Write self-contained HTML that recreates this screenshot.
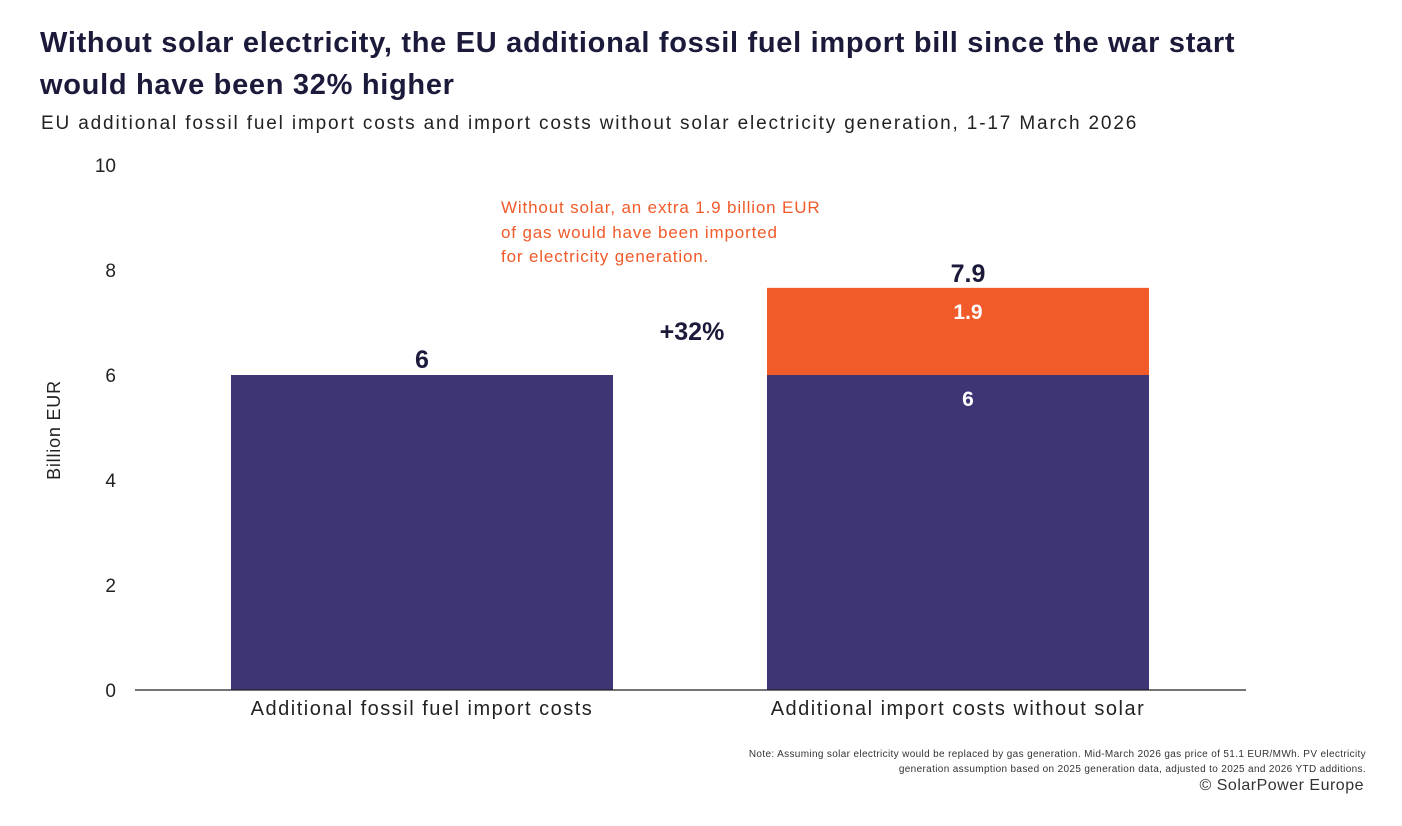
<!DOCTYPE html>
<html><head><meta charset="utf-8"><style>
body{margin:0;background:#fff;font-family:"Liberation Sans",sans-serif;color:#1b1a3a}
#root{position:relative;width:1402px;height:826px;overflow:hidden}
.t{position:absolute;white-space:nowrap}
</style></head><body><div id="root">
<div class="t" style="left:40px;top:22px;font-size:29px;font-weight:bold;line-height:42px;letter-spacing:0.7px;color:#1b1a3a">Without solar electricity, the EU additional fossil fuel import bill since the war start<br>would have been 32% higher</div>
<div class="t" style="left:41px;top:113px;font-size:19px;letter-spacing:1.85px;color:#222">EU additional fossil fuel import costs and import costs without solar electricity generation, 1-17 March 2026</div>
<div class="t" style="left:501px;top:196px;font-size:17px;line-height:24.5px;letter-spacing:0.85px;color:#f15a29">Without solar, an extra 1.9 billion EUR<br>of gas would have been imported<br>for electricity generation.</div>
<div class="t" style="right:36px;top:747px;font-size:10px;line-height:15px;letter-spacing:0.35px;text-align:right;color:#333">Note: Assuming solar electricity would be replaced by gas generation. Mid-March 2026 gas price of 51.1 EUR/MWh. PV electricity<br>generation assumption based on 2025 generation data, adjusted to 2025 and 2026 YTD additions.</div>
<div class="t" style="right:38px;top:777px;font-size:16px;letter-spacing:0.5px;color:#333">© SolarPower Europe</div>
<svg id="svg" width="1402" height="826" style="position:absolute;left:0;top:0"></svg>
</div>
<script>
const categories=["Additional fossil fuel import costs","Additional import costs without solar"];
const baseValues=[6,6];
const extraValues=[0,1.66];
const baseLabels=["6","6"];
const extraLabels=["","1.9"];
const totalLabels=["","7.9"];
const yTicks=[0,2,4,6,8,10];
const svg=document.getElementById('svg');const NS="http://www.w3.org/2000/svg";
const y=v=>690-v*52.5;
const xc=i=>[422,958][i];const bw=382;
function el(t,a,txt){const e=document.createElementNS(NS,t);for(const k in a)e.setAttribute(k,a[k]);if(txt!==undefined)e.textContent=txt;svg.appendChild(e);return e;}
yTicks.forEach(v=>{const e=el('text',{x:116,y:y(v)+7,'text-anchor':'end','font-size':19,fill:'#222','font-family':'Liberation Sans'},String(v));

});
const yt=el('text',{x:0,y:0,transform:'translate(60,430) rotate(-90)','text-anchor':'middle','font-size':18,'letter-spacing':'0.8',fill:'#222'},'Billion EUR');


categories.forEach((c,i)=>{
const b=el('rect',{x:xc(i)-bw/2,y:y(baseValues[i]),width:bw,height:y(0)-y(baseValues[i]),fill:'#3e3575'});


if(extraValues[i]>0){
const r=el('rect',{x:xc(i)-bw/2,y:y(baseValues[i]+extraValues[i]),width:bw,height:y(baseValues[i])-y(baseValues[i]+extraValues[i]),fill:'#f15a29'});


const l=el('text',{x:xc(i)+10,y:y(baseValues[i]+extraValues[i])+31,'text-anchor':'middle','font-size':21,'font-weight':'bold',fill:'#fff'},extraLabels[i]);


const lb=el('text',{x:xc(i)+10,y:y(baseValues[i])+31,'text-anchor':'middle','font-size':21,'font-weight':'bold',fill:'#fff'},baseLabels[i]);


const tl=el('text',{x:xc(i)+10,y:y(baseValues[i]+extraValues[i])-6,'text-anchor':'middle','font-size':25,'font-weight':'bold',fill:'#1b1a3a'},totalLabels[i]);


}else{
const lb=el('text',{x:xc(i),y:y(baseValues[i])-7,'text-anchor':'middle','font-size':25,'font-weight':'bold',fill:'#1b1a3a'},baseLabels[i]);


}
const cl=el('text',{x:xc(i),y:715,'text-anchor':'middle','font-size':20,'letter-spacing':'1.5',fill:'#222'},c);


});
const ax=el('line',{x1:135,x2:1246,y1:690,y2:690,stroke:'#222','stroke-width':1.2});


const pc=el('text',{x:692,y:340,'text-anchor':'middle','font-size':25,'font-weight':'bold',fill:'#1b1a3a'},'+32%');


</script></body></html>
